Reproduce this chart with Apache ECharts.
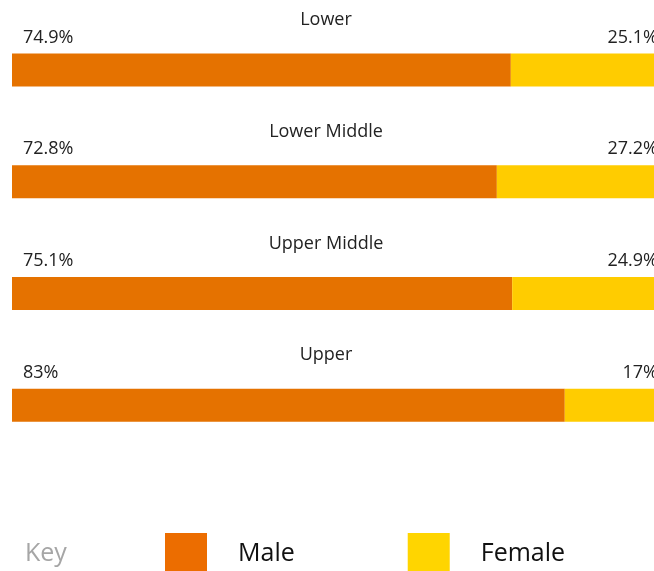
<!DOCTYPE html>
<html>
<head>
<meta charset="utf-8">
<script src="https://cdn.jsdelivr.net/npm/echarts@6/dist/echarts.min.js"></script>
<style>
  html, body { margin: 0; padding: 0; background: #fff; overflow: hidden; }
  #chart { width: 678px; height: 571px; }
</style>
</head>
<body>
<div id="chart"></div>
<script>
// Gender split by income group (percent)
const categories = ['Lower', 'Lower Middle', 'Upper Middle', 'Upper'];
const maleValues = [74.9, 72.8, 75.1, 83];
const femaleValues = [25.1, 27.2, 24.9, 17];
const seriesNames = ['Male', 'Female'];

const FONT = '"Open Sans", "Noto Sans", sans-serif';
const MALE_COLOR = '#E57200';
const FEMALE_COLOR = '#FFCC00';
const TEXT_COLOR = '#222';

const chart = echarts.init(document.getElementById('chart'), null, { renderer: 'canvas' });

const pct = p => p.value + '%';

chart.setOption({
  animation: false,
  backgroundColor: '#fff',
  textStyle: { fontFamily: FONT },
  title: {
    text: 'Key',
    left: 25,
    top: 541,
    padding: 0,
    textStyle: { fontFamily: FONT, fontSize: 25, fontWeight: 'normal', color: '#a6a6a6' }
  },
  legend: {
    left: 165,
    top: 533,
    padding: 0,
    itemWidth: 42,
    itemHeight: 42,
    itemGap: 113,
    icon: 'rect',
    selectedMode: false,
    data: [
      { name: seriesNames[0], itemStyle: { color: '#EC6D00' } },
      { name: seriesNames[1], itemStyle: { color: '#FFD500' } }
    ],
    textStyle: { fontFamily: FONT, fontSize: 25, color: '#111', padding: [0, 0, 0, 26] }
  },
  grid: { left: 12, right: 0, top: 14, bottom: 110, containLabel: false },
  xAxis: {
    type: 'value',
    min: 0,
    max: 100,
    show: false
  },
  yAxis: {
    type: 'category',
    inverse: true,
    data: categories,
    axisLine: { show: false },
    axisTick: { show: false },
    splitLine: { show: false },
    axisLabel: {
      inside: true,
      margin: 314,
      align: 'center',
      verticalAlign: 'bottom',
      padding: [0, 0, 41, 0],
      fontFamily: FONT,
      fontSize: 18,
      color: TEXT_COLOR
    }
  },
  series: [
    {
      name: seriesNames[0],
      type: 'bar',
      stack: 'total',
      barWidth: 33,
      data: maleValues,
      itemStyle: { color: MALE_COLOR },
      label: {
        show: true,
        position: [0, 0],
        align: 'left',
        verticalAlign: 'bottom',
        offset: [11, -7],
        formatter: pct,
        fontFamily: FONT,
        fontSize: 18,
        color: TEXT_COLOR
      }
    },
    {
      name: seriesNames[1],
      type: 'bar',
      stack: 'total',
      barWidth: 33,
      data: femaleValues,
      itemStyle: { color: FEMALE_COLOR },
      label: {
        show: true,
        position: ['100%', 0],
        align: 'right',
        verticalAlign: 'bottom',
        offset: [-20, -7],
        formatter: pct,
        fontFamily: FONT,
        fontSize: 18,
        color: TEXT_COLOR
      }
    }
  ]
});
</script>
</body>
</html>
